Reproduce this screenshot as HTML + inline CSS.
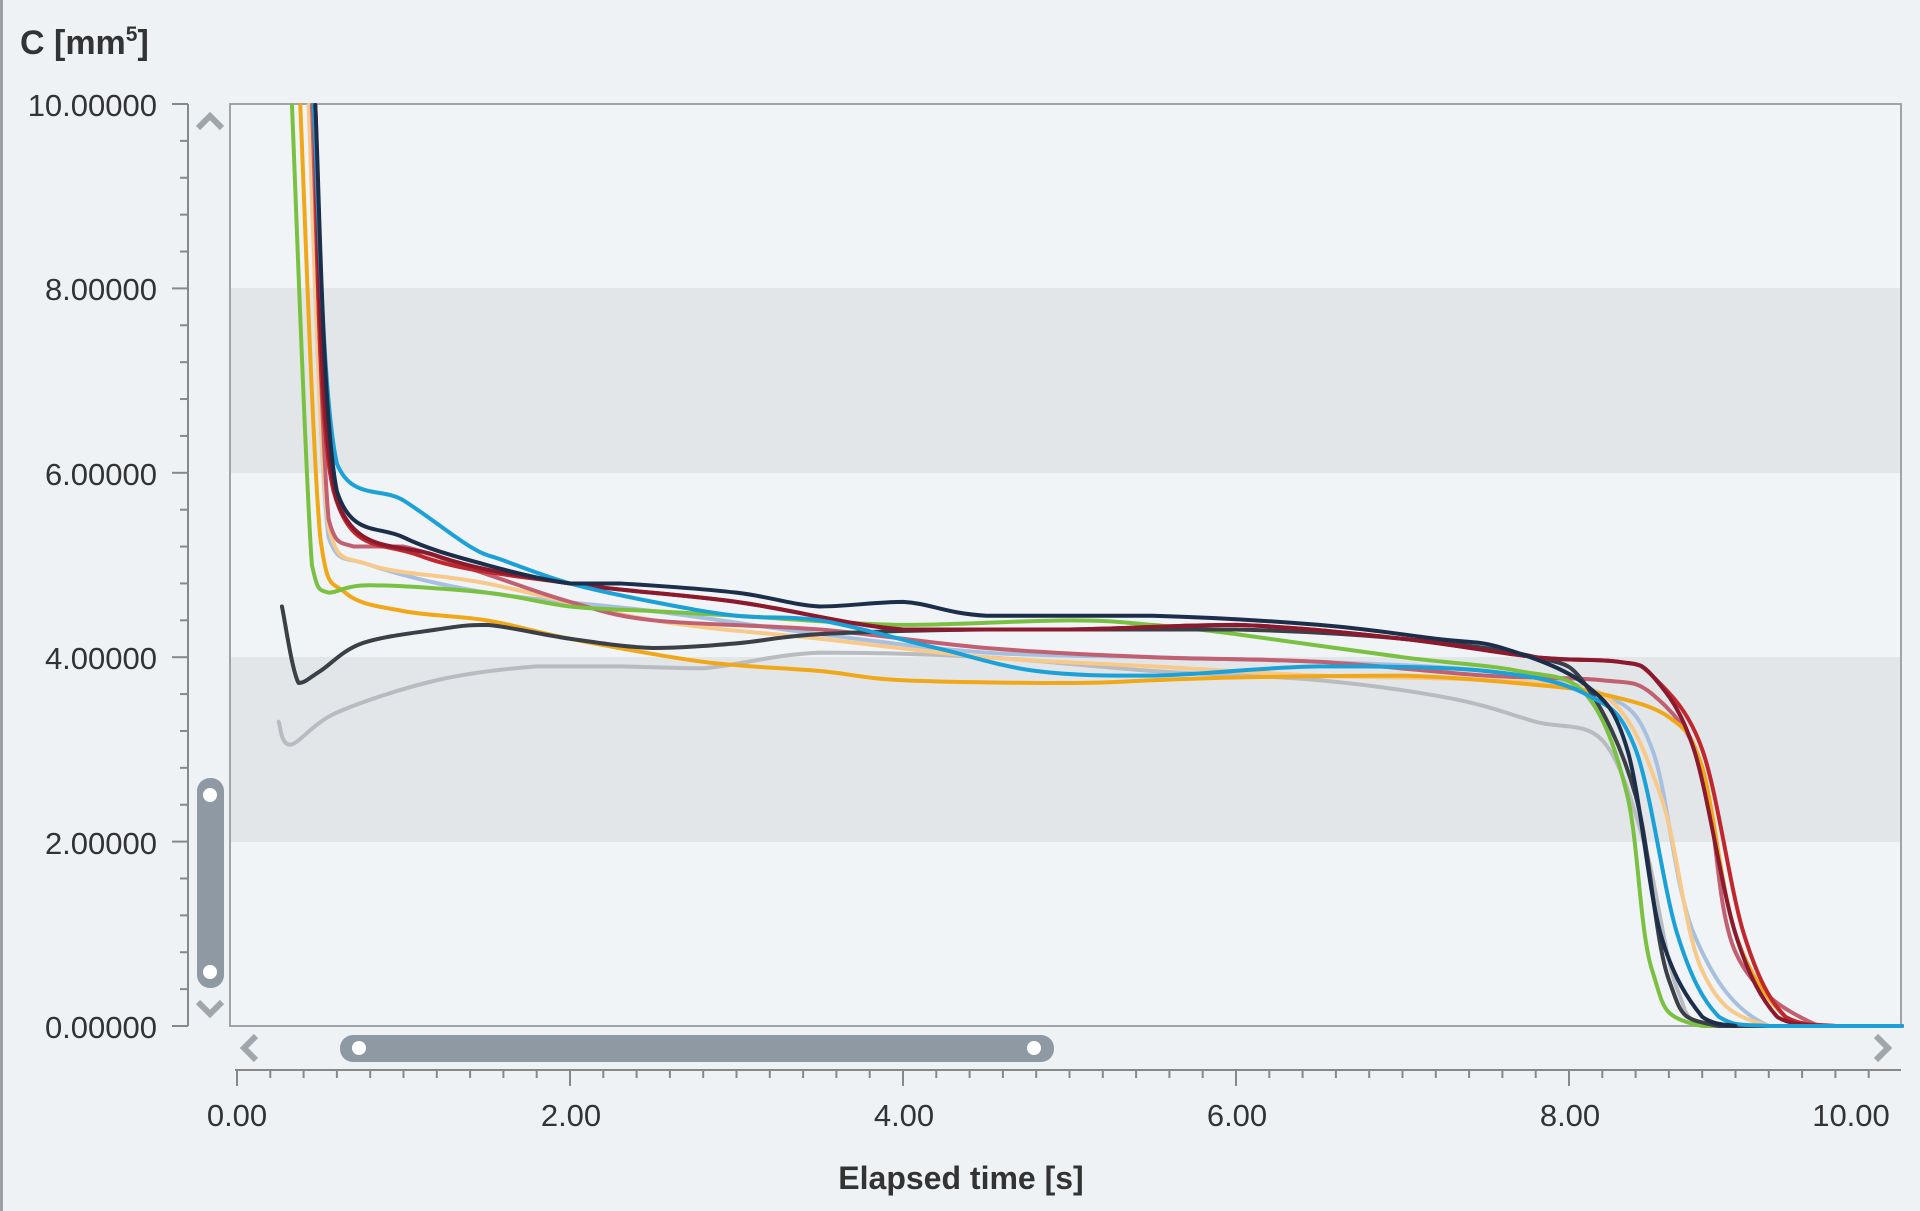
<!DOCTYPE html>
<html><head><meta charset="utf-8"><style>
html,body{margin:0;padding:0;background:#eef2f5;}
svg{display:block;font-family:"Liberation Sans",sans-serif;}
</style></head><body>
<svg id="s" width="1920" height="1211" viewBox="0 0 1920 1211" xmlns="http://www.w3.org/2000/svg">
<rect x="0" y="0" width="1920" height="1211" fill="#eef2f5"/>
<rect x="0" y="0" width="3" height="1211" fill="#9aa0a6"/>
<text x="20" y="54" font-size="34" font-weight="bold" fill="#333">C [mm<tspan font-size="21" dy="-13">5</tspan><tspan dy="13">]</tspan></text>
<rect x="230" y="104" width="1671" height="922" fill="#f1f4f6" stroke="#a0a4a8" stroke-width="2"/>
<rect x="231" y="288" width="1669" height="185" fill="#e2e6e9"/>
<rect x="231" y="657" width="1669" height="185" fill="#e2e6e9"/>
<g id="yt" stroke="#888" stroke-width="2"></g>
<g font-size="31" fill="#333" text-anchor="end">
<text x="157" y="116">10.00000</text>
<text x="157" y="300">8.00000</text>
<text x="157" y="485">6.00000</text>
<text x="157" y="669">4.00000</text>
<text x="157" y="854">2.00000</text>
<text x="157" y="1038">0.00000</text>
</g>
<g id="xt" stroke="#888" stroke-width="2"></g>
<g font-size="31" fill="#333" text-anchor="middle">
<text x="237" y="1126">0.00</text>
<text x="571" y="1126">2.00</text>
<text x="904" y="1126">4.00</text>
<text x="1237" y="1126">6.00</text>
<text x="1570" y="1126">8.00</text>
<text x="1851" y="1126">10.00</text>
</g>
<text x="961" y="1189" font-size="32" font-weight="bold" fill="#333" text-anchor="middle">Elapsed time [s]</text>
<path d="M198 128 L210 116 L222 128" fill="none" stroke="#a0a6ac" stroke-width="6"/>
<path d="M198 1002 L210 1014 L222 1002" fill="none" stroke="#a0a6ac" stroke-width="6"/>
<rect x="197" y="778" width="27" height="210" rx="13" fill="#8e99a4"/>
<circle cx="210" cy="795" r="7" fill="#fff"/><circle cx="210" cy="972" r="7" fill="#fff"/>
<path d="M256 1036 L244 1048 L256 1060" fill="none" stroke="#a0a6ac" stroke-width="6"/>
<path d="M1876 1036 L1888 1048 L1876 1060" fill="none" stroke="#a0a6ac" stroke-width="6"/>
<rect x="340" y="1035" width="714" height="27" rx="13" fill="#8e99a4"/>
<circle cx="359" cy="1048" r="7" fill="#fff"/><circle cx="1034" cy="1048" r="7" fill="#fff"/>
<g id="curves" fill="none" stroke-width="4" stroke-linejoin="round" stroke-linecap="round"></g>
</svg>
<script>
var NS="http://www.w3.org/2000/svg";
function X(t){return 237+t*166.5;}function Y(v){return 1026-v*92.2;}
var yt=document.getElementById('yt');
var l=document.createElementNS(NS,'line');l.setAttribute('x1',188);l.setAttribute('x2',188);l.setAttribute('y1',104);l.setAttribute('y2',1026);yt.appendChild(l);
for(var i=0;i<=25;i++){var v=i*0.4,y=Y(v);var m=(i%5==0);var e=document.createElementNS(NS,'line');e.setAttribute('x1',m?172:180);e.setAttribute('x2',188);e.setAttribute('y1',y);e.setAttribute('y2',y);yt.appendChild(e);}
var xt=document.getElementById('xt');
l=document.createElementNS(NS,'line');l.setAttribute('x1',235);l.setAttribute('x2',1901);l.setAttribute('y1',1070);l.setAttribute('y2',1070);xt.appendChild(l);
for(var i=0;i<=50;i++){var t=i*0.2;if(X(t)>1901)break;var m=(i%10==0);var e=document.createElementNS(NS,'line');e.setAttribute('x1',X(t));e.setAttribute('x2',X(t));e.setAttribute('y1',1070);e.setAttribute('y2',m?1086:1078);xt.appendChild(e);}
var S=[
["#b8bcc0",[[0.25,3.3],[0.32,3.05],[0.6,3.4],[1.2,3.75],[1.8,3.9],[2.3,3.9],[2.8,3.88],[3.5,4.05],[4.5,4.0],[5.5,3.85],[6.5,3.75],[7.3,3.55],[7.8,3.3],[8.2,3.1],[8.45,2.0],[8.65,0.4],[8.9,0],[10,0]]],
["#a8c0e0",[[0.44,10.2],[0.55,5.3],[0.8,5.0],[1.5,4.7],[2.5,4.5],[3.5,4.25],[4.5,4.05],[5.5,4.0],[6.5,3.95],[7.5,3.85],[8.2,3.6],[8.5,3.0],[8.75,1.0],[9.2,0],[10,0]]],
["#f7c98a",[[0.43,10.2],[0.55,5.4],[0.8,5.0],[1.5,4.8],[2.5,4.4],[3.5,4.2],[4.5,4.0],[5.5,3.9],[6.5,3.8],[7.5,3.75],[8.2,3.6],[8.55,2.5],[8.8,0.6],[9.2,0],[10,0]]],
["#c06070",[[0.45,10.2],[0.55,5.5],[0.7,5.2],[1.0,5.2],[1.5,4.9],[2.0,4.6],[2.5,4.4],[3.5,4.3],[4.5,4.1],[5.5,4.0],[6.5,3.95],[7.5,3.8],[8.2,3.75],[8.5,3.6],[8.8,2.8],[9.0,0.8],[9.5,0],[10,0]]],
["#f0a818",[[0.38,10.2],[0.5,5.3],[0.65,4.7],[1.0,4.5],[1.5,4.4],[2.0,4.2],[2.8,3.95],[3.5,3.85],[4.0,3.75],[5.0,3.72],[5.5,3.75],[6.0,3.78],[7.0,3.8],[7.8,3.7],[8.2,3.6],[8.6,3.35],[8.8,2.8],[9.0,1.0],[9.3,0.1],[9.6,0],[10,0]]],
["#7ac142",[[0.33,10.2],[0.45,5.0],[0.55,4.7],[0.8,4.78],[1.5,4.7],[2.0,4.55],[2.5,4.5],[3.0,4.45],[4.0,4.35],[5.0,4.4],[5.5,4.35],[6.0,4.25],[7.0,4.0],[7.7,3.85],[8.1,3.6],[8.35,2.5],[8.5,0.6],[8.8,0],[10,0]]],
["#3a3f48",[[0.27,4.55],[0.37,3.72],[0.5,3.85],[0.75,4.15],[1.2,4.3],[1.5,4.35],[2.0,4.2],[2.5,4.1],[3.0,4.15],[3.5,4.25],[4.5,4.3],[6.0,4.3],[7.0,4.2],[7.8,4.0],[8.1,3.7],[8.4,2.5],[8.6,0.5],[8.9,0],[10,0]]],
["#c0282e",[[0.46,10.2],[0.58,5.8],[1.1,5.1],[2.0,4.8],[3.0,4.6],[4.0,4.3],[5.0,4.3],[6.0,4.35],[7.0,4.2],[7.8,4.0],[8.3,3.95],[8.5,3.8],[8.8,3.0],[9.05,1.0],[9.3,0.1],[9.6,0],[10,0]]],
["#8b1a2e",[[0.47,10.2],[0.6,5.7],[1.2,5.1],[2.0,4.8],[3.0,4.6],[4.0,4.3],[5.0,4.3],[6.0,4.35],[7.0,4.2],[7.8,4.0],[8.3,3.95],[8.5,3.8],[8.75,3.0],[9.0,1.0],[9.25,0.1],[9.5,0]]],
["#1ba1d8",[[0.46,10.2],[0.6,6.1],[1.0,5.7],[1.4,5.2],[1.6,5.05],[2.0,4.8],[2.5,4.6],[3.0,4.45],[3.5,4.4],[4.2,4.1],[4.8,3.85],[5.5,3.8],[6.5,3.9],[7.5,3.85],[8.1,3.6],[8.4,3.0],[8.65,1.0],[8.9,0.1],[9.2,0],[10,0]]],
["#1c2e4a",[[0.47,10.2],[0.6,5.8],[1.0,5.3],[1.5,5.0],[2.0,4.8],[2.3,4.8],[3.0,4.7],[3.5,4.55],[4.0,4.6],[4.5,4.45],[5.5,4.45],[6.5,4.35],[7.2,4.2],[7.6,4.1],[8.1,3.7],[8.35,3.0],[8.55,1.0],[8.8,0.1],[9.0,0]]]
];
function cl(v,a,b){var lo=Math.min(a,b),hi=Math.max(a,b);return Math.max(lo,Math.min(hi,v));}
var g=document.getElementById('curves');
S.forEach(function(s){var p=s[1].map(function(q){return [X(q[0]),Math.max(105,Y(q[1]))];});
var d="M"+p[0][0]+" "+p[0][1];
for(var i=0;i<p.length-1;i++){var p0=p[i-1]||p[i],p1=p[i],p2=p[i+1],p3=p[i+2]||p2;
var c1x=p1[0]+(p2[0]-p0[0])/6,c1y=cl(p1[1]+(p2[1]-p0[1])/6,p1[1],p2[1]);
var c2x=p2[0]-(p3[0]-p1[0])/6,c2y=cl(p2[1]-(p3[1]-p1[1])/6,p1[1],p2[1]);
c1x=cl(c1x,p1[0],p2[0]);c2x=cl(c2x,p1[0],p2[0]);
d+=" C"+c1x+" "+c1y+" "+c2x+" "+c2y+" "+p2[0]+" "+p2[1];}
var e=document.createElementNS(NS,'path');e.setAttribute('d',d);e.setAttribute('stroke',s[0]);g.appendChild(e);});
</script>
</body></html>
